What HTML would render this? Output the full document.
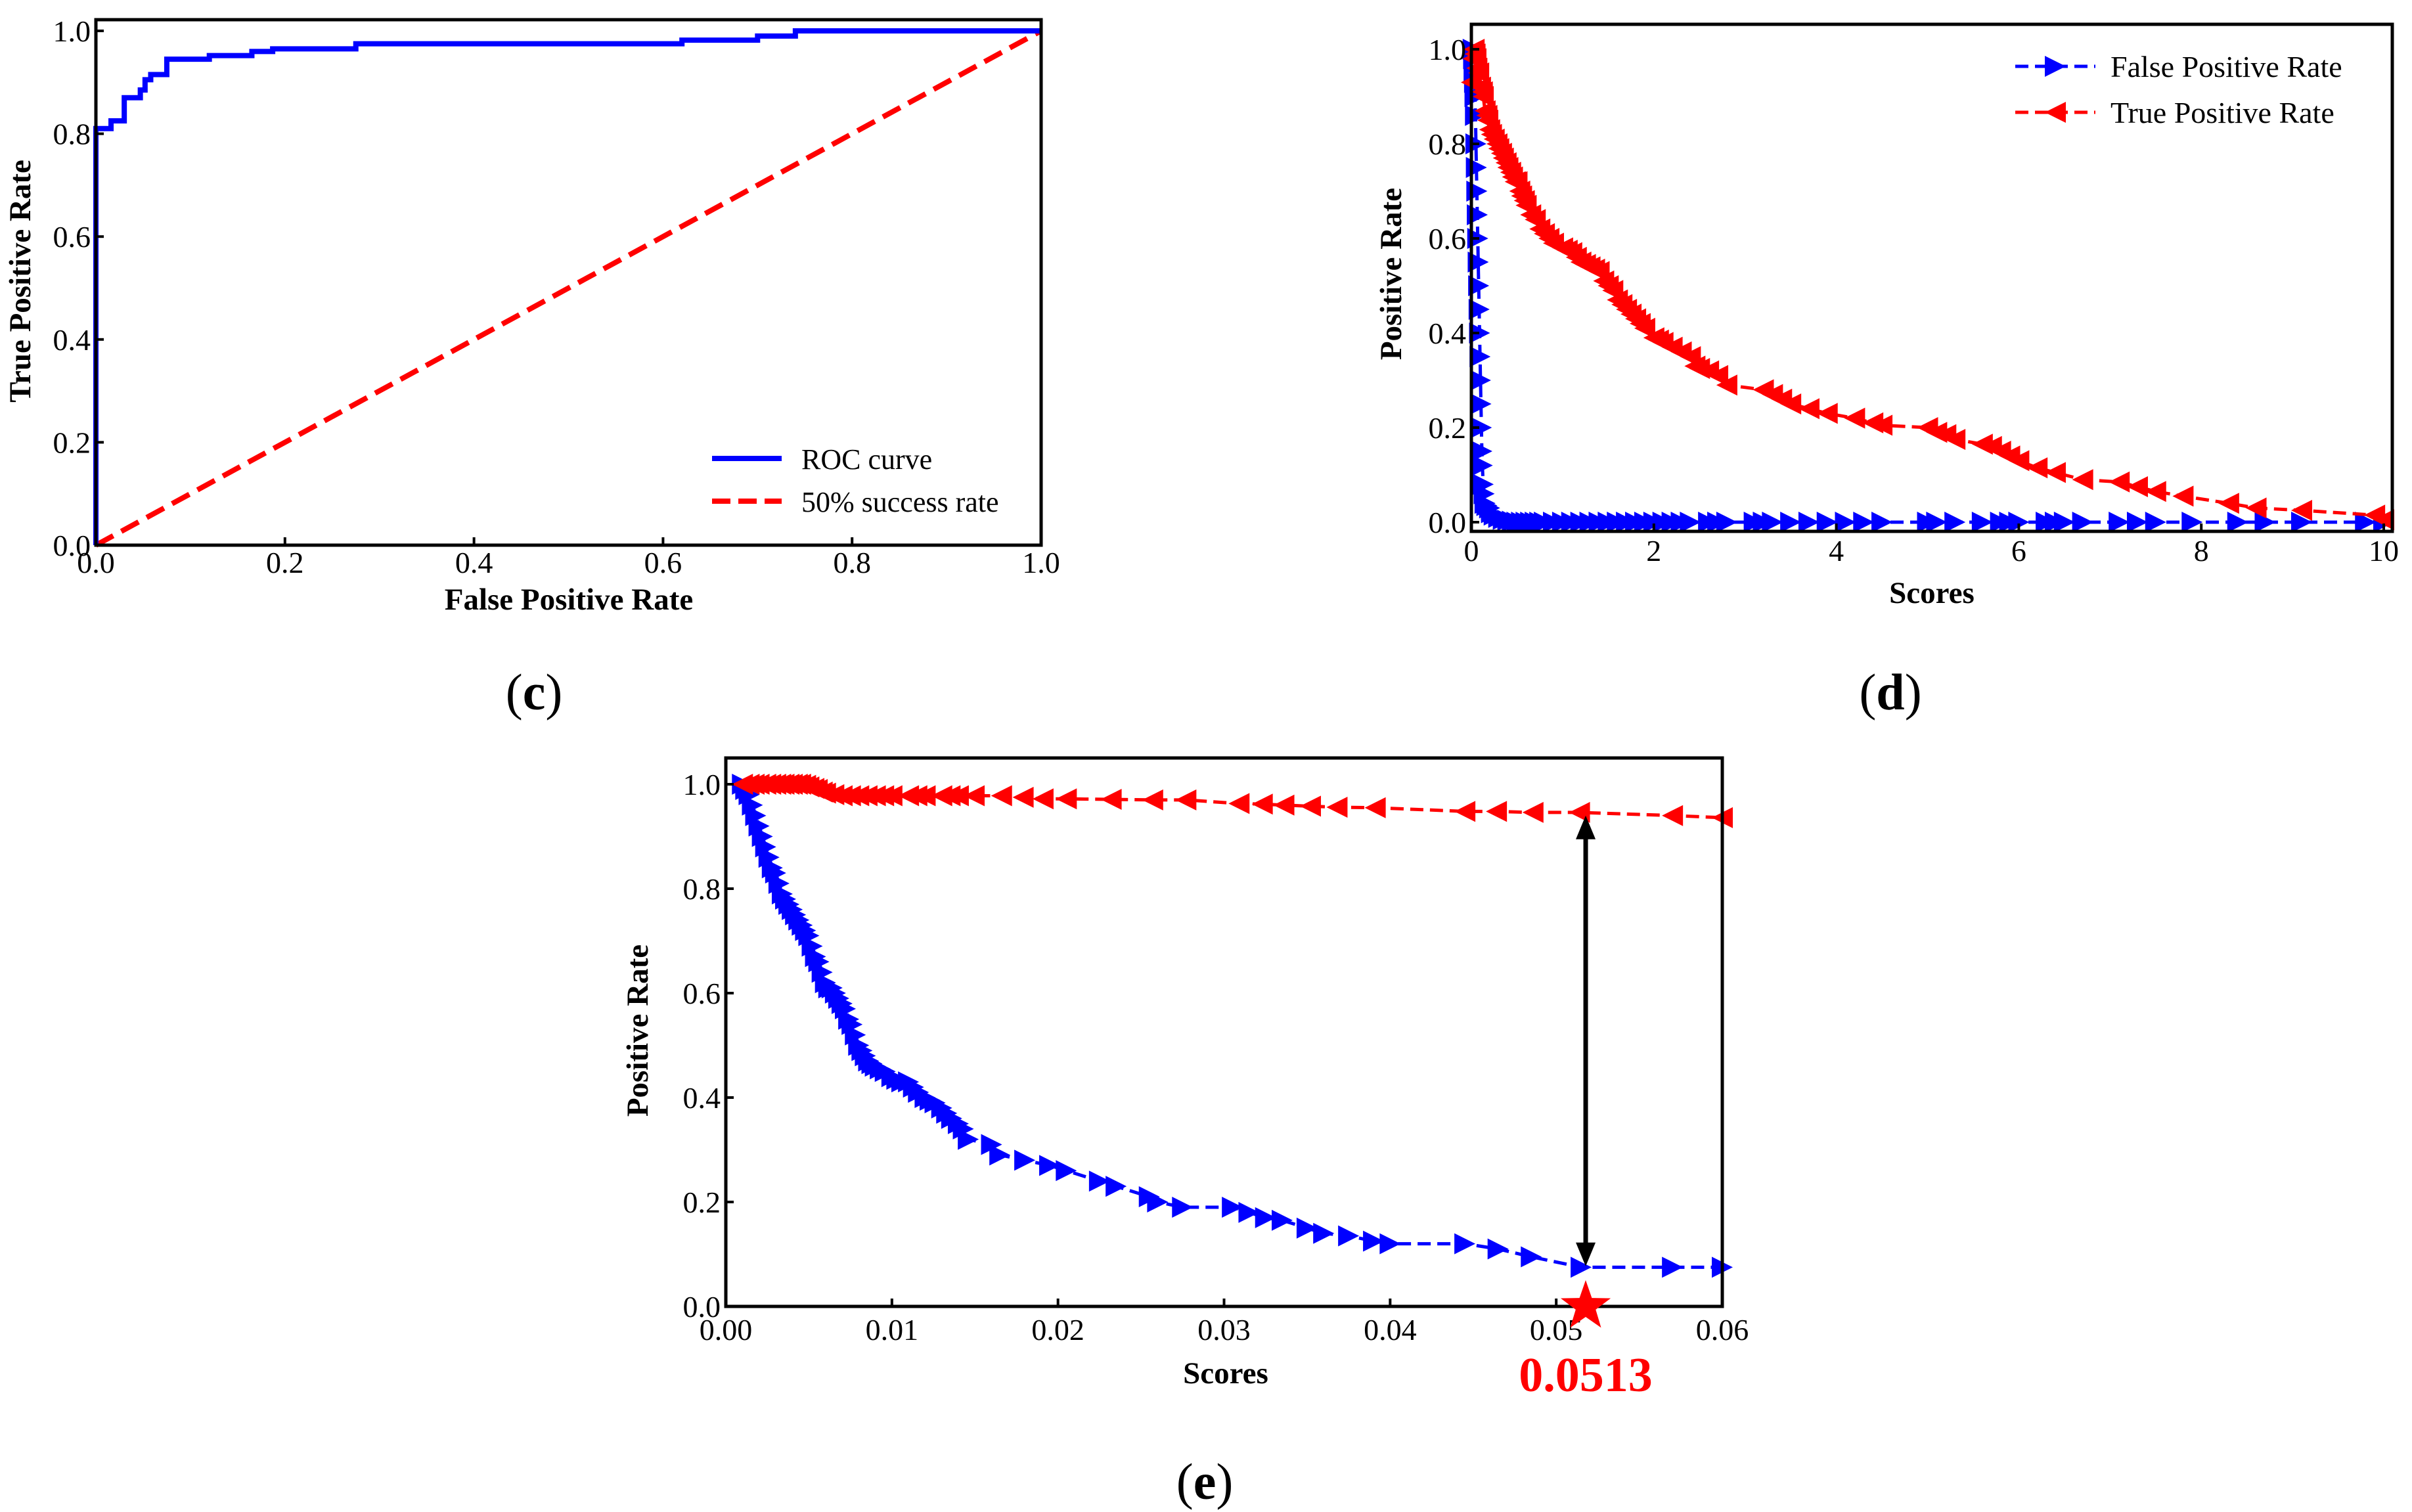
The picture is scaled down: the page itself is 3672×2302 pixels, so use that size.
<!DOCTYPE html>
<html><head><meta charset="utf-8"><style>
body{margin:0;background:#fff}
svg{display:block}
text{font-family:"Liberation Serif",serif}
</style></head><body>
<svg id="fig" width="3672" height="2302" viewBox="0 0 3672 2302" xmlns="http://www.w3.org/2000/svg"></svg>
<script>
// ---- Panel c data ----
const rocX = [0,0,0.016,0.016,0.03,0.03,0.047,0.047,0.052,0.052,0.058,0.058,0.075,0.075,0.12,0.12,0.165,0.165,0.187,0.187,0.275,0.275,0.62,0.62,0.70,0.70,0.74,0.74,1];
const rocY = [0,0.81,0.81,0.825,0.825,0.87,0.87,0.885,0.885,0.905,0.905,0.915,0.915,0.945,0.945,0.952,0.952,0.96,0.96,0.965,0.965,0.975,0.975,0.982,0.982,0.99,0.99,1,1];
const diagX = [0,1];
const diagY = [0,1];
const cTicks = [0,0.2,0.4,0.6,0.8,1.0];
const cTickLabels = ["0.0","0.2","0.4","0.6","0.8","1.0"];
// ---- Panel d data ----
const dTprX = [0,0.02,0.03,0.04,0.05,0.06,0.08,0.1,0.12,0.13,0.15,0.17,0.18,0.2,0.22,0.25,0.28,0.3,0.33,0.35,0.38,0.4,0.43,0.45,0.48,0.5,0.53,0.55,0.58,0.6,0.65,0.7,0.75,0.8,0.85,0.9,1.0,1.05,1.1,1.15,1.2,1.25,1.3,1.35,1.4,1.45,1.5,1.55,1.6,1.65,1.7,1.75,1.8,1.85,1.9,2.0,2.05,2.1,2.2,2.3,2.4,2.45,2.5,2.6,2.7,2.8,3.2,3.3,3.4,3.5,3.7,3.9,4.2,4.4,4.5,5.0,5.1,5.2,5.3,5.6,5.7,5.8,5.9,6.0,6.2,6.4,6.7,7.1,7.3,7.5,7.8,8.3,8.6,9.1,9.9,10];
const dTprY = [0.93,0.98,1.0,0.99,0.98,0.96,0.95,0.92,0.91,0.9,0.87,0.86,0.85,0.83,0.82,0.81,0.8,0.79,0.78,0.77,0.76,0.75,0.74,0.73,0.72,0.72,0.7,0.69,0.68,0.67,0.65,0.64,0.62,0.61,0.6,0.59,0.58,0.575,0.57,0.56,0.55,0.545,0.54,0.535,0.53,0.51,0.5,0.49,0.47,0.46,0.45,0.44,0.43,0.42,0.41,0.39,0.385,0.38,0.37,0.36,0.35,0.33,0.325,0.32,0.31,0.29,0.28,0.27,0.26,0.25,0.24,0.23,0.22,0.21,0.205,0.2,0.19,0.185,0.175,0.165,0.16,0.15,0.14,0.13,0.115,0.105,0.09,0.085,0.075,0.065,0.055,0.04,0.03,0.025,0.015,0.005];
const dFprX = [0.02,0.025,0.03,0.035,0.04,0.045,0.05,0.055,0.06,0.065,0.07,0.075,0.08,0.085,0.09,0.095,0.1,0.105,0.11,0.115,0.12,0.13,0.14,0.15,0.17,0.2,0.22,0.25,0.3,0.35,0.4,0.45,0.5,0.55,0.6,0.65,0.7,0.75,0.8,0.9,1.0,1.1,1.2,1.3,1.4,1.5,1.6,1.7,1.8,1.9,2.0,2.1,2.2,2.3,2.4,2.6,2.7,2.8,3.1,3.2,3.3,3.5,3.7,3.9,4.1,4.3,4.5,5.0,5.1,5.3,5.6,5.8,5.9,6.0,6.3,6.4,6.5,6.7,7.1,7.3,7.5,7.9,8.4,8.7,9.1,9.8,10];
const dFprY = [1.0,0.98,0.95,0.93,0.9,0.86,0.8,0.75,0.7,0.65,0.6,0.55,0.5,0.45,0.4,0.35,0.3,0.25,0.2,0.15,0.12,0.08,0.06,0.04,0.035,0.03,0.02,0.015,0.01,0.006,0.004,0.002,0,0,0,0,0,0,0,0,0,0,0,0,0,0,0,0,0,0,0,0,0,0,0,0,0,0,0,0,0,0,0,0,0,0,0,0,0,0,0,0,0,0,0,0,0,0,0,0,0,0,0,0,0,0,0];
const dXTicks = [0,2,4,6,8,10];
const dXTickLabels = ["0","2","4","6","8","10"];
const rateTicks = [0,0.2,0.4,0.6,0.8,1.0];
const rateTickLabels = ["0.0","0.2","0.4","0.6","0.8","1.0"];
// ---- Panel e data ----
const eTprX = [0.001,0.0014,0.0017,0.002,0.0024,0.0027,0.003,0.0033,0.0035,0.0038,0.004,0.0043,0.0045,0.0048,0.005,0.0053,0.0055,0.0058,0.006,0.0065,0.007,0.0075,0.008,0.0085,0.009,0.0095,0.01,0.011,0.0115,0.012,0.013,0.0135,0.014,0.01495,0.0166,0.0179,0.0191,0.0205,0.0232,0.0257,0.0277,0.0309,0.0323,0.0336,0.0352,0.0368,0.0391,0.0445,0.0464,0.0486,0.0514,0.057,0.06];
const eTprY = [1.0,1.0,1.0,1.0,1.0,1.0,1.0,1.0,1.0,1.0,1.0,1.0,1.0,0.998,0.995,0.992,0.99,0.985,0.983,0.98,0.978,0.978,0.978,0.978,0.978,0.978,0.978,0.978,0.978,0.978,0.978,0.978,0.978,0.978,0.978,0.975,0.972,0.972,0.971,0.97,0.97,0.963,0.962,0.96,0.958,0.956,0.955,0.948,0.948,0.946,0.946,0.94,0.936];
const eFprX = [0.001,0.0012,0.0014,0.0016,0.0018,0.002,0.0022,0.0024,0.0026,0.0028,0.003,0.0032,0.0034,0.0036,0.0038,0.004,0.0042,0.0044,0.0046,0.0048,0.005,0.0052,0.0054,0.0056,0.0058,0.006,0.0062,0.0064,0.0066,0.0068,0.007,0.0072,0.0074,0.0076,0.0078,0.008,0.0082,0.0084,0.0086,0.0088,0.009,0.0093,0.0096,0.01,0.0103,0.0106,0.011,0.0113,0.0116,0.012,0.0123,0.0126,0.013,0.0133,0.0136,0.014,0.0143,0.0146,0.016,0.0165,0.018,0.0195,0.0205,0.0225,0.0235,0.0255,0.026,0.0275,0.0305,0.0315,0.0325,0.0335,0.035,0.036,0.0375,0.039,0.040,0.0445,0.0465,0.0485,0.0515,0.057,0.06];
const eFprY = [1.0,0.99,0.98,0.96,0.94,0.92,0.9,0.88,0.86,0.84,0.83,0.81,0.79,0.78,0.77,0.76,0.75,0.74,0.73,0.72,0.71,0.69,0.67,0.66,0.64,0.62,0.61,0.61,0.6,0.59,0.58,0.57,0.55,0.54,0.52,0.5,0.49,0.48,0.47,0.465,0.46,0.455,0.45,0.44,0.435,0.43,0.43,0.42,0.41,0.4,0.395,0.39,0.38,0.37,0.36,0.35,0.34,0.32,0.31,0.29,0.28,0.27,0.26,0.24,0.23,0.21,0.2,0.19,0.19,0.18,0.17,0.165,0.15,0.14,0.135,0.125,0.12,0.12,0.11,0.095,0.075,0.075,0.075];
const eXTicks = [0,0.01,0.02,0.03,0.04,0.05,0.06];
const eXTickLabels = ["0.00","0.01","0.02","0.03","0.04","0.05","0.06"];
const threshold = [0.0513];
const thresholdLabel = ["0.0513"];

const NS = "http://www.w3.org/2000/svg";
const svg = document.getElementById('fig');
function mk(tag, attrs, parent){const e=document.createElementNS(NS,tag);for(const k in attrs)e.setAttribute(k,attrs[k]);(parent||svg).appendChild(e);return e;}
function scale(d0,d1,r0,r1){return v=>r0+(v-d0)/(d1-d0)*(r1-r0);}
function frame(g,L,R,T,B){
  const r=mk('rect',{x:L,y:T,width:R-L,height:B-T,fill:'none',stroke:'#000','stroke-width':5},g);
  
  
}
function xTicks(g,sx,B,vals,labels,ty,name){
  vals.forEach((v,i)=>{
    const l=mk('line',{x1:sx(v),x2:sx(v),y1:B,y2:B-12,stroke:'#000','stroke-width':4},g);
    
    
    const t=mk('text',{x:sx(v),y:ty,'font-size':46,'text-anchor':'middle'},g);
    t.textContent=labels[i];
    
    
  });
}
function yTicks(g,sy,L,vals,labels,name){
  vals.forEach((v,i)=>{
    const l=mk('line',{x1:L,x2:L+12,y1:sy(v),y2:sy(v),stroke:'#000','stroke-width':4},g);
    
    
    const t=mk('text',{x:L-8,y:sy(v)+16,'font-size':46,'text-anchor':'end'},g);
    t.textContent=labels[i];
    
    
  });
}
function label(g,txt,x,y,rot,name,opts){
  const a={x:x,y:y,'font-size':47,'font-weight':'bold','text-anchor':'middle'};
  if(rot)a.transform=`rotate(-90 ${x} ${y})`;
  Object.assign(a,opts||{});
  const t=mk('text',a,g);t.textContent=txt;
  
  
  return t;
}
function line(g,xs,ys,sx,sy,attrs,name){
  const p=mk('polyline',Object.assign({points:xs.map((v,i)=>sx(v)+','+sy(ys[i])).join(' '),fill:'none'},attrs),g);
  
  
}
function tri(g,x,y,dir,color,s,name){
  const pts = dir>0 ? `${x+s},${y} ${x-s},${y-s} ${x-s},${y+s}` : `${x-s},${y} ${x+s},${y-s} ${x+s},${y+s}`;
  const p=mk('polygon',{points:pts,fill:color},g);
  
  
}
function markers(g,xs,ys,sx,sy,dir,color,name){
  const mg=mk('g',{},g);
  
  
  xs.forEach((v,i)=>tri(mg,sx(v),sy(ys[i]),dir,color,16,name+'-marker'));
}
function caption(letter,x,y,name){
  const t=mk('text',{x:x,y:y,'font-size':78,'text-anchor':'middle'});
  const a=mk('tspan',{},t);a.textContent='(';
  const b=mk('tspan',{'font-weight':'bold'},t);b.textContent=letter;
  const c=mk('tspan',{},t);c.textContent=')';
  
  
}

// ---------- Panel c ----------
(function(){
  const g=mk('g',{});
  const L=146,R=1585,T=30,B=830;
  const sx=scale(0,1,L,R), sy=scale(0,1,B,47);
  line(g,diagX,diagY,sx,sy,{stroke:'#ff0000','stroke-width':8,'stroke-dasharray':'30 14'},'chance-line');
  line(g,rocX,rocY,sx,sy,{stroke:'#0000ff','stroke-width':8},'roc-curve');
  frame(g,L,R,T,B);
  xTicks(g,sx,B,cTicks,cTickLabels,872,'x-axis');
  yTicks(g,sy,L,cTicks,cTickLabels,'y-axis');
  label(g,'False Positive Rate',866,928,false,'x-axis-title');
  label(g,'True Positive Rate',46,428,true,'y-axis-title');
  const lg=mk('g',{},g);
  let l=mk('line',{x1:1084,x2:1190,y1:698,y2:698,stroke:'#0000ff','stroke-width':8},lg);
  
  let t=mk('text',{x:1220,y:714,'font-size':44},lg);t.textContent='ROC curve';
  
  l=mk('line',{x1:1084,x2:1190,y1:763,y2:763,stroke:'#ff0000','stroke-width':8,'stroke-dasharray':'28 12'},lg);
  
  t=mk('text',{x:1220,y:779,'font-size':44},lg);t.textContent='50% success rate';
  
})();
caption('c',813,1080,'caption-c');

// ---------- Panel d ----------
(function(){
  const g=mk('g',{});
  const L=2240,R=3642,T=37,B=809;
  const sx=scale(0,10,L,3629), sy=scale(0,1,795,75);
  line(g,dFprX,dFprY,sx,sy,{stroke:'#0000ff','stroke-width':5,'stroke-dasharray':'20 10'},'fpr-line');
  markers(g,dFprX,dFprY,sx,sy,1,'#0000ff','fpr');
  line(g,dTprX,dTprY,sx,sy,{stroke:'#ff0000','stroke-width':5,'stroke-dasharray':'20 10'},'tpr-line');
  markers(g,dTprX,dTprY,sx,sy,-1,'#ff0000','tpr');
  frame(g,L,R,T,B);
  xTicks(g,sx,B,dXTicks,dXTickLabels,854,'x-axis');
  yTicks(g,sy,L,rateTicks,rateTickLabels,'y-axis');
  label(g,'Scores',2941,918,false,'x-axis-title');
  label(g,'Positive Rate',2133,417,true,'y-axis-title');
  const lg=mk('g',{},g);
  [['False Positive Rate','#0000ff',101,1,'fpr'],['True Positive Rate','#ff0000',171,-1,'tpr']].forEach(r=>{
    const l=mk('line',{x1:3068,x2:3190,y1:r[2],y2:r[2],stroke:r[1],'stroke-width':5,'stroke-dasharray':'20 10'},lg);
    
    tri(lg,3129,r[2],r[3],r[1],16,'legend-'+r[4]+'-marker');
    const t=mk('text',{x:3213,y:r[2]+16,'font-size':46},lg);t.textContent=r[0];
    
  });
})();
caption('d',2878,1080,'caption-d');

// ---------- Panel e ----------
(function(){
  const g=mk('g',{});
  const L=1105,R=2622,T=1154,B=1989;
  const sx=scale(0,0.06,L,R), sy=scale(0,1,B,1194);
  line(g,eFprX,eFprY,sx,sy,{stroke:'#0000ff','stroke-width':5,'stroke-dasharray':'20 10'},'fpr-line');
  markers(g,eFprX,eFprY,sx,sy,1,'#0000ff','fpr');
  line(g,eTprX,eTprY,sx,sy,{stroke:'#ff0000','stroke-width':5,'stroke-dasharray':'20 10'},'tpr-line');
  markers(g,eTprX,eTprY,sx,sy,-1,'#ff0000','tpr');
  const tx=sx(threshold[0])+12, yTop=sy(0.94), yBot=sy(0.077);
  const ag=mk('g',{},g);
  mk('line',{x1:tx,x2:tx,y1:yTop+30,y2:yBot-30,stroke:'#000','stroke-width':7},ag);
  mk('polygon',{points:`${tx},${yTop} ${tx-15},${yTop+36} ${tx+15},${yTop+36}`,fill:'#000'},ag);
  mk('polygon',{points:`${tx},${yBot} ${tx-15},${yBot-36} ${tx+15},${yBot-36}`,fill:'#000'},ag);
  frame(g,L,R,T,B);
  xTicks(g,sx,B,eXTicks,eXTickLabels,2040,'x-axis');
  yTicks(g,sy,L,rateTicks,rateTickLabels,'y-axis');
  const cx=tx, cy=sy(0), ro=40, ri=16; let pts=[];
  for(let k=0;k<10;k++){const a=-Math.PI/2+k*Math.PI/5;const r=k%2?ri:ro;pts.push((cx+r*Math.cos(a)).toFixed(1)+','+(cy+r*Math.sin(a)).toFixed(1));}
  const st=mk('polygon',{points:pts.join(' '),fill:'#ff0000'},g);
  
  label(g,'Scores',1866,2106,false,'x-axis-title');
  label(g,'Positive Rate',986,1569,true,'y-axis-title');
  label(g,thresholdLabel[0],tx,2118,false,'threshold-label',{fill:'#ff0000','font-size':74});
})();
caption('e',1834,2282,'caption-e');
</script>
</body></html>
